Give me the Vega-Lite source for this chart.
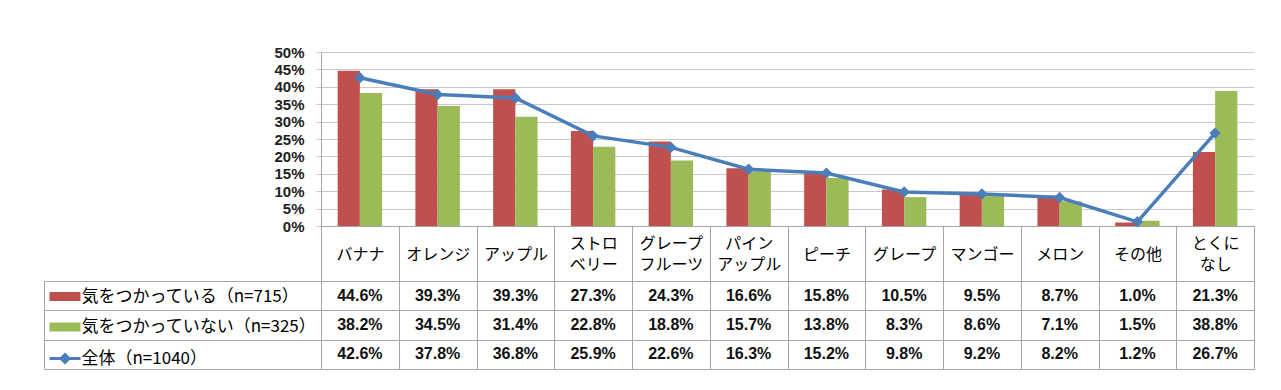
{
  "$schema": "https://vega.github.io/schema/vega-lite/v6.json",
  "padding": {"left": 43, "top": 45, "right": 5, "bottom": 5},
  "background": "white",
  "config": {"view": {"stroke": null}, "font": "Noto Sans CJK JP"},
  "datasets": {
    "d": [
      {"cat": "バナナ", "series": "気をつかっている（n=715）", "value": 0.446},
      {"cat": "オレンジ", "series": "気をつかっている（n=715）", "value": 0.393},
      {"cat": "アップル", "series": "気をつかっている（n=715）", "value": 0.393},
      {"cat": "ストロ\nベリー", "series": "気をつかっている（n=715）", "value": 0.273},
      {"cat": "グレープ\nフルーツ", "series": "気をつかっている（n=715）", "value": 0.243},
      {"cat": "パイン\nアップル", "series": "気をつかっている（n=715）", "value": 0.166},
      {"cat": "ピーチ", "series": "気をつかっている（n=715）", "value": 0.158},
      {"cat": "グレープ", "series": "気をつかっている（n=715）", "value": 0.105},
      {"cat": "マンゴー", "series": "気をつかっている（n=715）", "value": 0.095},
      {"cat": "メロン", "series": "気をつかっている（n=715）", "value": 0.087},
      {"cat": "その他", "series": "気をつかっている（n=715）", "value": 0.010},
      {"cat": "とくに\nなし", "series": "気をつかっている（n=715）", "value": 0.213},
      {"cat": "バナナ", "series": "気をつかっていない（n=325）", "value": 0.382},
      {"cat": "オレンジ", "series": "気をつかっていない（n=325）", "value": 0.345},
      {"cat": "アップル", "series": "気をつかっていない（n=325）", "value": 0.314},
      {"cat": "ストロ\nベリー", "series": "気をつかっていない（n=325）", "value": 0.228},
      {"cat": "グレープ\nフルーツ", "series": "気をつかっていない（n=325）", "value": 0.188},
      {"cat": "パイン\nアップル", "series": "気をつかっていない（n=325）", "value": 0.157},
      {"cat": "ピーチ", "series": "気をつかっていない（n=325）", "value": 0.138},
      {"cat": "グレープ", "series": "気をつかっていない（n=325）", "value": 0.083},
      {"cat": "マンゴー", "series": "気をつかっていない（n=325）", "value": 0.086},
      {"cat": "メロン", "series": "気をつかっていない（n=325）", "value": 0.071},
      {"cat": "その他", "series": "気をつかっていない（n=325）", "value": 0.015},
      {"cat": "とくに\nなし", "series": "気をつかっていない（n=325）", "value": 0.388},
      {"cat": "バナナ", "series": "全体（n=1040）", "value": 0.426},
      {"cat": "オレンジ", "series": "全体（n=1040）", "value": 0.378},
      {"cat": "アップル", "series": "全体（n=1040）", "value": 0.368},
      {"cat": "ストロ\nベリー", "series": "全体（n=1040）", "value": 0.259},
      {"cat": "グレープ\nフルーツ", "series": "全体（n=1040）", "value": 0.226},
      {"cat": "パイン\nアップル", "series": "全体（n=1040）", "value": 0.163},
      {"cat": "ピーチ", "series": "全体（n=1040）", "value": 0.152},
      {"cat": "グレープ", "series": "全体（n=1040）", "value": 0.098},
      {"cat": "マンゴー", "series": "全体（n=1040）", "value": 0.092},
      {"cat": "メロン", "series": "全体（n=1040）", "value": 0.082},
      {"cat": "その他", "series": "全体（n=1040）", "value": 0.012},
      {"cat": "とくに\nなし", "series": "全体（n=1040）", "value": 0.267}
    ]
  },
  "data": {"name": "d"},
  "spacing": 55,
  "bounds": "flush",
  "vconcat": [
    {
      "width": 933,
      "height": 174,
      "encoding": {
        "x": {
          "field": "cat", "type": "nominal", "sort": null,
          "scale": {"type": "band", "paddingInner": 0, "paddingOuter": 0},
          "axis": {
            "orient": "bottom", "title": null, "tickBand": "extent", "tickSize": 55,
            "tickColor": "#A6A6A6", "domainColor": "#A6A6A6", "labelAngle": 0,
            "labelBaseline": "middle", "labelAlign": "center",
            "labelPadding": {"condition": {"test": "indexof(datum.label, '\\n') >= 0", "value": -37.5}, "value": -27},
            "labelFont": "Noto Sans CJK JP", "labelFontSize": 16, "labelColor": "#000000",
            "labelExpr": "split(datum.label, '\\n')",
            "labelLineHeight": 21,
            "labelLimit": 0, "labelOverlap": false, "labelFlush": false
          }
        },
        "y": {
          "field": "value", "type": "quantitative",
          "scale": {"domain": [0, 0.5], "nice": false},
          "axis": {
            "title": null, "values": [0, 0.05, 0.1, 0.15, 0.2, 0.25, 0.3, 0.35, 0.4, 0.45, 0.5],
            "format": ".0%", "grid": true, "gridColor": "#C8C8C8", "tickSize": 5,
            "tickColor": "#C8C8C8", "domainColor": "#A6A6A6", "labelFont": "Liberation Sans",
            "labelFontWeight": "bold", "labelFontSize": 15, "labelColor": "#222222", "labelPadding": 12
          }
        }
      },
      "layer": [
        {
          "transform": [{"filter": "datum.series !== '全体（n=1040）'"}],
          "mark": {"type": "bar"},
          "encoding": {
            "xOffset": {
              "field": "series", "type": "nominal",
              "sort": ["気をつかっている（n=715）", "気をつかっていない（n=325）"],
              "scale": {"paddingInner": 0, "paddingOuter": 0.75}
            },
            "color": {
              "field": "series", "type": "nominal",
              "sort": ["気をつかっている（n=715）", "気をつかっていない（n=325）", "全体（n=1040）"],
              "scale": {
                "domain": ["気をつかっている（n=715）", "気をつかっていない（n=325）", "全体（n=1040）"],
                "range": ["#C0504D", "#9BBB59", "#4A7EBB"]
              },
              "legend": {
                "orient": "none", "legendX": -264.5, "legendY": 236, "title": null,
                "direction": "vertical", "labelFont": "Noto Sans CJK JP", "labelFontSize": 17,
                "labelColor": "#000000", "rowPadding": 12.5, "labelOffset": 8, "symbolSize": 100,
                "padding": 0, "labelLimit": 0,
                "encode": {
                  "symbols": {
                    "update": {
                      "shape": {"signal": "datum.value === '全体（n=1040）' ? 'M-3.1,0H3.1M0,-0.8L0.8,0L0,0.8L-0.8,0Z' : 'M-3.1,-0.9H3.1V0.9H-3.1Z'"},
                      "fill": {"signal": "scale('color', datum.value)"},
                      "stroke": {"signal": "scale('color', datum.value)"},
                      "strokeWidth": {"signal": "datum.value === '全体（n=1040）' ? 3 : 0"},
                      "size": {"value": 100},
                      "opacity": {"value": 1},
                      "fillOpacity": {"value": 1}
                    }
                  }
                }
              }
            }
          }
        },
        {
          "transform": [{"filter": "datum.series === '全体（n=1040）'"}],
          "mark": {"type": "line", "strokeWidth": 3.5, "point": {"shape": "diamond", "size": 130, "filled": true, "opacity": 1}},
          "encoding": {
            "color": {"field": "series", "type": "nominal"}
          }
        }
      ]
    },
    {
      "width": 933,
      "height": 88,
      "mark": {"type": "text", "font": "Liberation Sans", "fontWeight": "bold", "fontSize": 16, "color": "#111111"},
      "encoding": {
        "x": {
          "field": "cat", "type": "nominal", "sort": null,
          "scale": {"type": "band", "paddingInner": 0, "paddingOuter": 0},
          "axis": {"orient": "top", "labels": false, "ticks": false, "domain": false, "grid": true, "tickBand": "extent", "gridColor": "#A6A6A6", "gridOpacity": 1, "title": null}
        },
        "y": {
          "field": "series", "type": "nominal",
          "sort": ["気をつかっている（n=715）", "気をつかっていない（n=325）", "全体（n=1040）"],
          "scale": {"type": "band", "paddingInner": 0, "paddingOuter": 0},
          "axis": {"labels": false, "offset": 277, "tickSize": -277, "tickBand": "extent", "ticks": true, "tickColor": "#A6A6A6", "domain": true, "domainColor": "#A6A6A6", "grid": true, "gridColor": "#A6A6A6", "gridOpacity": 1, "title": null}
        },
        "text": {"field": "value", "type": "quantitative", "format": ".1%"}
      }
    }
  ]
}
